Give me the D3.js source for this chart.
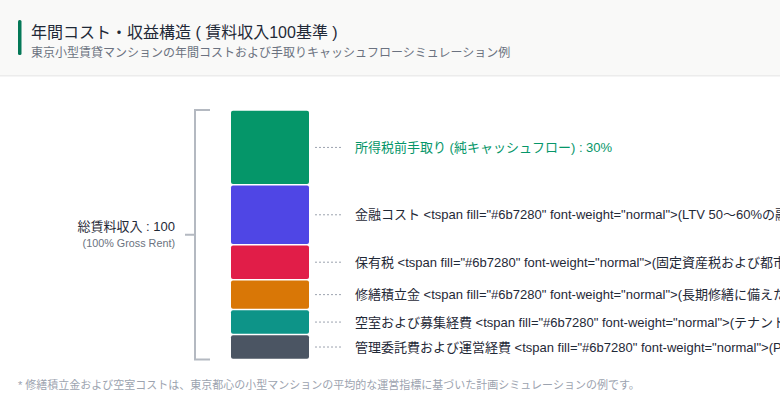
<!DOCTYPE html>
<html lang="ja">
<head>
<meta charset="UTF-8">
<title>年間コスト・収益構造</title>
<script src="https://d3js.org/d3.v7.min.js"></script>
<style>
  html, body { margin: 0; padding: 0; background: #ffffff; overflow: hidden; }
  svg { display: block; font-family: "Liberation Sans", Arial, "Noto Sans CJK JP", sans-serif; }
</style>
</head>
<body>
<div id="chart"></div>
<script>
// data (top of bar first)
var segments = ["net", "finance", "tax", "repair", "vacancy", "management"];
var shares = [30, 24, 14, 12, 10, 10];
var colors = ["#059669", "#4f46e5", "#e11d48", "#d97706", "#0d9488", "#4b5563"];
var labels = [
  "所得税前手取り (純キャッシュフロー) : 30%",
  "金融コスト <tspan fill=\"#6b7280\" font-weight=\"normal\">(LTV 50〜60%の融資返済および利息) : 24%</tspan>",
  "保有税 <tspan fill=\"#6b7280\" font-weight=\"normal\">(固定資産税および都市計画税) : 14%</tspan>",
  "修繕積立金 <tspan fill=\"#6b7280\" font-weight=\"normal\">(長期修繕に備えた積立金) : 12%</tspan>",
  "空室および募集経費 <tspan fill=\"#6b7280\" font-weight=\"normal\">(テナント募集広告費および空室損失) : 10%</tspan>",
  "管理委託費および運営経費 <tspan fill=\"#6b7280\" font-weight=\"normal\">(PM・BM委託費および共用部経費) : 10%</tspan>"
];
var labelColors = ["#059669", "#1f2937", "#1f2937", "#1f2937", "#1f2937", "#1f2937"];
var totalLabel = "総賃料収入 : 100";
var totalSub = "(100% Gross Rent)";

var W = 780, H = 405;
var svg = d3.select("#chart").append("svg")
    .attr("width", W)
    .attr("height", H);

// header
svg.append("rect").attr("x", 0).attr("y", 0).attr("width", W).attr("height", 75).attr("fill", "#f9f9f8");
svg.append("rect").attr("x", 0).attr("y", 75).attr("width", W).attr("height", 1.5).attr("fill", "#ececec");
svg.append("rect").attr("x", 18).attr("y", 20).attr("width", 3.5).attr("height", 35).attr("rx", 1.5).attr("fill", "#047857");
svg.append("text").attr("x", 31).attr("y", 38)
    .style("font-size", "16px").attr("fill", "#1f2937")
    .text("年間コスト・収益構造 ( 賃料収入100基準 )");
svg.append("text").attr("x", 31).attr("y", 57)
    .style("font-size", "12px").attr("fill", "#6b7280")
    .text("東京小型賃貸マンションの年間コストおよび手取りキャッシュフローシミュレーション例");

// scales
var stackTop = [];
var acc = 0;
shares.forEach(function(v) { stackTop.push(acc); acc += v; });

var y = d3.scaleLinear().domain([0, 100]).range([110, 359.5]);
var x = d3.scaleBand().domain(["total"]).range([231, 309]);

// bars
svg.append("g").selectAll("rect")
  .data(segments)
  .enter().append("rect")
    .attr("x", x("total"))
    .attr("width", x.bandwidth())
    .attr("y", function(d, i) { return y(stackTop[i]) + 0.75; })
    .attr("height", function(d, i) { return y(stackTop[i] + shares[i]) - y(stackTop[i]) - 1.5; })
    .attr("rx", 2)
    .attr("fill", function(d, i) { return colors[i]; });

// leaders + labels
var lab = svg.append("g").selectAll("g")
  .data(segments)
  .enter().append("g")
    .attr("transform", function(d, i) { return "translate(0," + y(stackTop[i] + shares[i] / 2) + ")"; });
lab.append("line")
    .attr("x1", 315).attr("x2", 343)
    .attr("stroke", "#9ca3af").attr("stroke-width", 1).attr("stroke-dasharray", "2,2");
lab.append("text")
    .attr("x", 355).attr("dy", "0.35em")
    .style("font-size", "13px")
    .attr("fill", function(d, i) { return labelColors[i]; })
    .text(function(d, i) { return labels[i]; });

// bracket
var bx = 195;
svg.append("path")
    .attr("d", "M210," + y(0) + "H" + bx + "V" + y(100) + "H210M" + bx + "," + y(50) + "H185")
    .attr("fill", "none").attr("stroke", "#b4b9c1").attr("stroke-width", 2);
svg.append("text").attr("x", 175).attr("y", y(50) - 4)
    .style("font-size", "13px").attr("fill", "#1f2937").attr("text-anchor", "end")
    .text(totalLabel);
svg.append("text").attr("x", 175).attr("y", y(50) + 12)
    .style("font-size", "10.8px").attr("fill", "#6b7280").attr("text-anchor", "end")
    .text(totalSub);

// footnote
svg.append("text").attr("x", 18).attr("y", 389)
    .style("font-size", "11px").attr("fill", "#9ca3af")
    .text("* 修繕積立金および空室コストは、東京都心の小型マンションの平均的な運営指標に基づいた計画シミュレーションの例です。");
</script>
</body>
</html>
